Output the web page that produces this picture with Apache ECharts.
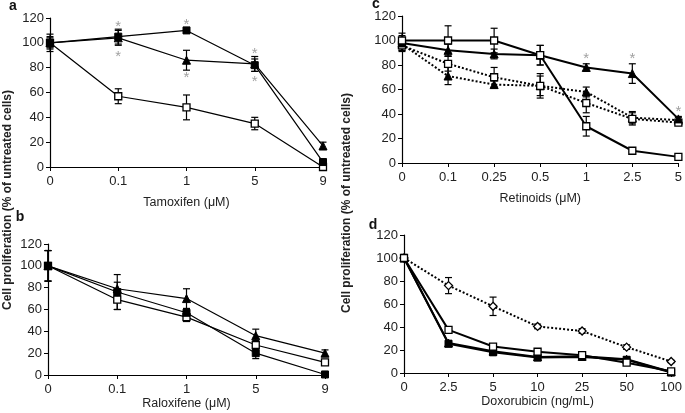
<!DOCTYPE html>
<html><head><meta charset="utf-8">
<script src="https://cdn.jsdelivr.net/npm/echarts@6/dist/echarts.min.js"></script>
<style>html,body{margin:0;padding:0;background:#fff}#c{width:685px;height:413px}</style>
</head><body><div id="c"></div>
<script>
// ---- Panel a: Tamoxifen ----
const aCats = ['0','0.1','1','5','9'];
const aFilledSq = [100,105,110,82,4];
const aFilledSqErr = [7,6,2,5,1];
const aTri = [100,104,86,83,17];
const aTriErr = [5,6,8,6,3];
const aOpenSq = [100,57,48,35,0];
const aOpenSqErr = [4,6,10,5,1];
const aStars = [[1,116],[1,92],[2,118],[2,75],[3,94],[3,72]];
// ---- Panel b: Raloxifene ----
const bCats = ['0','0.1','1','5','9'];
const bTri = [100,79,70,36,20];
const bTriErr = [14,6,9,6,3];
const bFilledSq = [100,76,57,20,0.5];
const bFilledSqErr = [14,16,3,5,1];
const bOpenSq = [100,69,53,27.5,11.5];
const bOpenSqErr = [14,9,4,4,1];
// ---- Panel c: Retinoids ----
const cCats = ['0','0.1','0.25','0.5','1','2.5','5'];
const cSolidOpenSq = [100,100,100,88,30,10,5];
const cSolidOpenSqErr = [6,12,10,8,8,1,1];
const cSolidTri = [98,92,89,88,78,73,36];
const cSolidTriErr = [6,5,4,8,3,8,2];
const cDotTri = [97,71,64,63,58,37,35];
const cDotTriErr = [5,7,3,8,4,5,2];
const cDotOpenSq = [96,81,70,63,49,36,33];
const cDotOpenSqErr = [5,6,8,10,8,5,2];
const cStars = [[4,88],[5,88],[6,45]];
// ---- Panel d: Doxorubicin ----
const dCats = ['0','2.5','5','10','25','50','100'];
const dDotDiamond = [100,76,58,40.5,36.5,22.5,10];
const dDotDiamondErr = [2,7,8,2,2,2,1];
const dOpenSq = [100,37.5,23,18.5,15.5,9,1.5];
const dOpenSqErr = [3,2,2,2,1,1,1];
const dTri = [100,26,19,14,14.5,12,1];
const dTriErr = [3,2,2,2,1,2,1];
const dFilledSq = [100,25.5,18,13.5,14,11.5,0.5];
const dFilledSqErr = [3,1,1,1,1,1,1];

const yTicks = [0,20,40,60,80,100,120];
const xNames = ['Tamoxifen (\u03bcM)','Raloxifene (\u03bcM)','Retinoids (\u03bcM)','Doxorubicin (ng/mL)'];
const yTitle = 'Cell proliferation (% of untreated cells)';

const FONT = 'Liberation Sans, Arial, sans-serif';
const grids = [
  {left:50, top:18, width:273, height:149},
  {left:48, top:244, width:277, height:131},
  {left:402, top:16, width:278, height:147},
  {left:404, top:235, width:273, height:138}
];
const nameGaps = [29, 22, 29, 20];
const catsList = [aCats, bCats, cCats, dCats];

const xAxes = catsList.map((cats,i)=>({
  type:'category', gridIndex:i, data:cats, boundaryGap:false,
  axisLine:{lineStyle:{color:'#000', width:1.2}},
  axisTick:{alignWithLabel:true, length:4, lineStyle:{color:'#000'}},
  axisLabel:{color:'#222', fontSize:13, fontFamily:FONT, margin:8},
  name:xNames[i], nameLocation:'middle', nameGap:nameGaps[i],
  nameTextStyle:{color:'#222', fontSize:12.5, fontFamily:FONT}
}));
const yAxes = grids.map((g,i)=>({
  type:'value', gridIndex:i, min:yTicks[0], max:yTicks[yTicks.length-1], interval:20,
  axisLine:{show:true, lineStyle:{color:'#000', width:1.2}},
  axisTick:{show:true, length:4, lineStyle:{color:'#000'}},
  axisLabel:{color:'#222', fontSize:13, fontFamily:FONT, margin:6},
  splitLine:{show:false}
}));

const markers = {
  fsq:{symbol:'rect', symbolSize:7, itemStyle:{color:'#000', borderColor:'#000', borderWidth:1}},
  osq:{symbol:'rect', symbolSize:7, itemStyle:{color:'#fff', borderColor:'#000', borderWidth:1.3}},
  tri:{symbol:'triangle', symbolSize:8, itemStyle:{color:'#000', borderColor:'#000', borderWidth:1}},
  odi:{symbol:'diamond', symbolSize:8, itemStyle:{color:'#fff', borderColor:'#000', borderWidth:1.3}}
};

function errRender(params, api){
  const xi = api.value(0), v = api.value(1), e = api.value(2);
  const hi = api.coord([xi, v+e]), lo = api.coord([xi, v-e]);
  const w = 3.5;
  const st = {stroke:'#000', lineWidth:1.2};
  return {type:'group', children:[
    {type:'line', shape:{x1:hi[0],y1:hi[1],x2:lo[0],y2:lo[1]}, style:st},
    {type:'line', shape:{x1:hi[0]-w,y1:hi[1],x2:hi[0]+w,y2:hi[1]}, style:st},
    {type:'line', shape:{x1:lo[0]-w,y1:lo[1],x2:lo[0]+w,y2:lo[1]}, style:st}
  ]};
}

const series = [];
function addSeries(gi, vals, errs, mk, lw, dotted){
  series.push({
    type:'custom', xAxisIndex:gi, yAxisIndex:gi, renderItem:errRender, z:2,
    encode:{x:0,y:1}, data: vals.map((v,i)=>[i,v,errs[i]]), silent:true
  });
  series.push(Object.assign({
    type:'line', xAxisIndex:gi, yAxisIndex:gi, data:vals, z:3,
    lineStyle:{color:'#000', width:lw, type: dotted ? 'dotted' : 'solid'},
    showAllSymbol:true, animation:false
  }, JSON.parse(JSON.stringify(markers[mk]))));
}
function addStars(gi, pts){
  series.push({
    type:'scatter', xAxisIndex:gi, yAxisIndex:gi, data:pts, symbolSize:1, z:4,
    itemStyle:{color:'rgba(0,0,0,0)'},
    label:{show:true, formatter:'*', position:'inside', offset:[0,4], color:'#888', fontSize:15, fontFamily:FONT}
  });
}

addSeries(0, aOpenSq, aOpenSqErr, 'osq', 1.2, false);
addSeries(0, aTri, aTriErr, 'tri', 1.2, false);
addSeries(0, aFilledSq, aFilledSqErr, 'fsq', 1.2, false);
addStars(0, aStars);

addSeries(1, bOpenSq, bOpenSqErr, 'osq', 1.2, false);
addSeries(1, bTri, bTriErr, 'tri', 1.2, false);
addSeries(1, bFilledSq, bFilledSqErr, 'fsq', 1.2, false);

addSeries(2, cDotTri, cDotTriErr, 'tri', 2, true);
addSeries(2, cDotOpenSq, cDotOpenSqErr, 'osq', 2, true);
addSeries(2, cSolidTri, cSolidTriErr, 'tri', 2, false);
addSeries(2, cSolidOpenSq, cSolidOpenSqErr, 'osq', 2, false);
addStars(2, cStars);

addSeries(3, dDotDiamond, dDotDiamondErr, 'odi', 2, true);
addSeries(3, dFilledSq, dFilledSqErr, 'fsq', 2, false);
addSeries(3, dTri, dTriErr, 'tri', 2, false);
addSeries(3, dOpenSq, dOpenSqErr, 'osq', 2, false);

const chart = echarts.init(document.getElementById('c'), null, {renderer:'canvas'});
chart.setOption({
  animation:false,
  backgroundColor:'#fff',
  grid:grids.map(g=>Object.assign({containLabel:false}, g)),
  xAxis:xAxes, yAxis:yAxes, series:series,
  graphic:[
    {type:'text', x:8, y:200, rotation:Math.PI/2, style:{text:yTitle, fill:'#222', font:'bold 12px '+FONT, textAlign:'center', textVerticalAlign:'middle'}},
    {type:'text', x:347, y:203, rotation:Math.PI/2, style:{text:yTitle, fill:'#222', font:'bold 12px '+FONT, textAlign:'center', textVerticalAlign:'middle'}},
    {type:'text', x:13, y:6, style:{text:'a', fill:'#111', font:'bold 14px '+FONT, textAlign:'center', textVerticalAlign:'middle'}},
    {type:'text', x:376, y:4, style:{text:'c', fill:'#111', font:'bold 14px '+FONT, textAlign:'center', textVerticalAlign:'middle'}},
    {type:'text', x:20, y:217, style:{text:'b', fill:'#111', font:'bold 14px '+FONT, textAlign:'center', textVerticalAlign:'middle'}},
    {type:'text', x:373, y:225, style:{text:'d', fill:'#111', font:'bold 14px '+FONT, textAlign:'center', textVerticalAlign:'middle'}}
  ]
});
</script></body></html>
